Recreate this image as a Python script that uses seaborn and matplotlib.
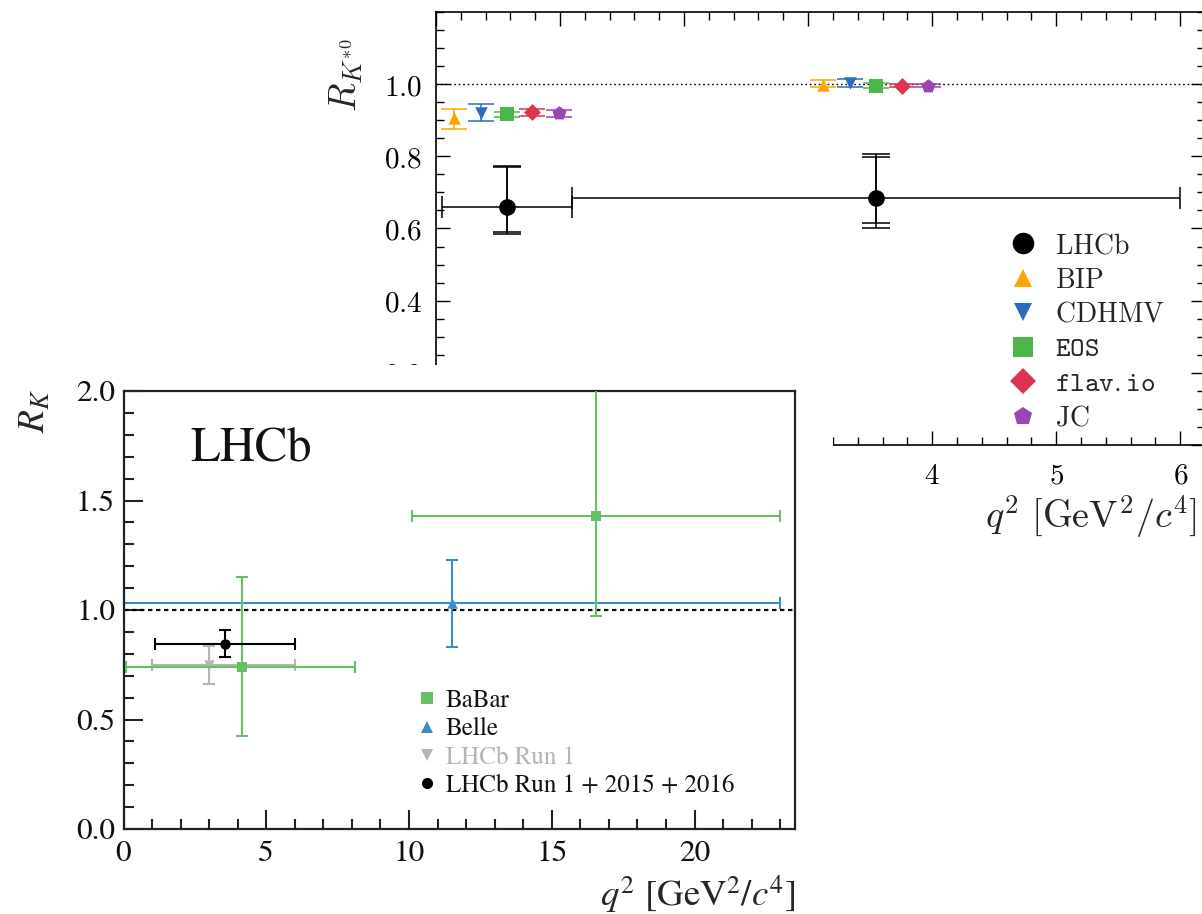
import numpy as np
import matplotlib
matplotlib.use("Agg")
import matplotlib.pyplot as plt
from matplotlib.patches import Rectangle
from matplotlib.lines import Line2D
from matplotlib.ticker import MultipleLocator
import seaborn as sns

# ---------------- data: R_K*0 (upper panel) ----------------
kst_lhcb_x = [0.5725, 3.55]
kst_lhcb_xlo = [0.045, 1.1]
kst_lhcb_xhi = [1.1, 6.0]
kst_lhcb_y = [0.660, 0.685]
kst_lhcb_stat_up = [0.110, 0.113]
kst_lhcb_stat_dn = [0.070, 0.069]
kst_lhcb_tot_up = [0.114, 0.122]
kst_lhcb_tot_dn = [0.076, 0.083]

theory_names = ["BIP", "CDHMV", "EOS", "flav.io", "JC"]
theory_x = {"BIP": [0.145, 3.12], "CDHMV": [0.36, 3.34], "EOS": [0.57, 3.55],
            "flav.io": [0.776, 3.76], "JC": [0.99, 3.97]}
theory_y = {"BIP": [0.905, 0.997], "CDHMV": [0.921, 1.002], "EOS": [0.917, 0.996],
            "flav.io": [0.922, 0.996], "JC": [0.919, 0.996]}
theory_up = {"BIP": [0.026, 0.014], "CDHMV": [0.023, 0.011], "EOS": [0.007, 0.007],
             "flav.io": [0.009, 0.004], "JC": [0.009, 0.004]}
theory_dn = {"BIP": [0.029, 0.006], "CDHMV": [0.023, 0.009], "EOS": [0.007, 0.006],
             "flav.io": [0.009, 0.004], "JC": [0.009, 0.004]}

# ---------------- data: R_K (lower panel) ----------------
babar_x = [4.14, 16.56]
babar_xlo = [0.10, 10.11]
babar_xhi = [8.12, 23.0]
babar_y = [0.74, 1.43]
babar_up = [0.41, 0.65]
babar_dn = [0.317, 0.457]

belle_x = [11.52]
belle_xlo = [0.0]
belle_xhi = [23.0]
belle_y = [1.03]
belle_up = [0.20]
belle_dn = [0.20]

run1_x = [3.0]
run1_xlo = [1.0]
run1_xhi = [6.0]
run1_y = [0.750]
run1_up = [0.087]
run1_dn = [0.087]

new_x = [3.57]
new_xlo = [1.1]
new_xhi = [6.0]
new_y = [0.846]
new_up = [0.064]
new_dn = [0.060]

# ---------------- styling ----------------
sns.set_style("ticks")
plt.rcParams["mathtext.fontset"] = "cm"
plt.rcParams["font.family"] = ["DejaVu Serif"]

W, H = 1202, 914
fig = plt.figure(figsize=(W / 100, H / 100), dpi=100)
fig.patch.set_facecolor("white")


def frac(l, t, r, b):
    return [l / W, 1 - b / H, (r - l) / W, (b - t) / H]


theory_style = {
    "BIP": dict(marker="^", color="#FFA500", ms=9.0, lms=13),
    "CDHMV": dict(marker="v", color="#2A6EBB", ms=9.0, lms=13),
    "EOS": dict(marker="s", color="#4CB84A", ms=9.5, lms=14),
    "flav.io": dict(marker="D", color="#DC3350", ms=8.6, lms=13.5),
    "JC": dict(marker="p", color="#9A46B4", ms=10.5, lms=13.5),
}

# ======================= upper panel =======================
ax1 = fig.add_axes(frac(436, 12, 1205, 445))
ax1.set_zorder(1)
ax1.set_facecolor("white")
ax1.set_xlim(0, 6.2)
ax1.set_ylim(0, 1.2)

ax1.axhline(1.0, color="black", lw=1.0, ls=(0, (1.2, 2.0)), zorder=1)

kx = np.array(kst_lhcb_x)
ax1.errorbar(kx, kst_lhcb_y,
             xerr=[kx - np.array(kst_lhcb_xlo), np.array(kst_lhcb_xhi) - kx],
             fmt="none", ecolor="black", elinewidth=1.1, capsize=8, capthick=1.1, zorder=3)
ax1.errorbar(kx, kst_lhcb_y, yerr=[kst_lhcb_stat_dn, kst_lhcb_stat_up],
             fmt="none", ecolor="black", elinewidth=1.1, capsize=10, capthick=1.1, zorder=3)
ax1.errorbar(kx, kst_lhcb_y, yerr=[kst_lhcb_tot_dn, kst_lhcb_tot_up],
             fmt="none", ecolor="black", elinewidth=1.1, capsize=10, capthick=1.1, zorder=3)
sns.scatterplot(x=kst_lhcb_x, y=kst_lhcb_y, marker="o", color="black", s=12 ** 2,
                linewidth=0, ax=ax1, zorder=4, legend=False)

for name in theory_names:
    st = theory_style[name]
    ax1.errorbar(theory_x[name], theory_y[name], yerr=[theory_dn[name], theory_up[name]],
                 fmt="none", ecolor=st["color"], elinewidth=1.1, capsize=9.4, capthick=1.1, zorder=3)
    sns.scatterplot(x=theory_x[name], y=theory_y[name], marker=st["marker"], color=st["color"],
                    s=st["ms"] ** 2, linewidth=0, ax=ax1, zorder=4, legend=False)

ax1.xaxis.set_minor_locator(MultipleLocator(0.2))
ax1.yaxis.set_minor_locator(MultipleLocator(0.05))
ax1.set_xticks(range(0, 7), [rf"${v}$" for v in range(0, 7)])
yt = [0.0, 0.2, 0.4, 0.6, 0.8, 1.0]
ax1.set_yticks(yt, [rf"${v:.1f}$" for v in yt])
ax1.tick_params(which="both", direction="in", top=True, right=True, width=1.0,
                colors="black", labelsize=21)
ax1.tick_params(which="major", length=10)
ax1.tick_params(which="minor", length=6)
ax1.tick_params(axis="x", pad=12)
ax1.tick_params(axis="y", pad=10)
for sp in ax1.spines.values():
    sp.set_linewidth(1.2)
    sp.set_color("black")

ax1.set_ylabel(r"$R_{K^{*0}}$", fontsize=27)
ax1.yaxis.set_label_coords(-0.092, 0.855)
ax1.set_xlabel(r"$q^2\ [\mathrm{GeV}^2/c^4]$", fontsize=27.5, loc="right")
ax1.xaxis.set_label_coords((1197 - 436) / 769, (445 - 493) / 433)

leg_handles = [Line2D([], [], marker="o", color="black", ls="none", ms=15.5, mew=0)]
leg_labels = [r"$\mathrm{LHCb}$"]
for name in theory_names:
    st = theory_style[name]
    leg_handles.append(Line2D([], [], marker=st["marker"], color=st["color"], ls="none",
                              ms=st["lms"], mew=0))
tt = {"EOS": r"$\mathtt{EOS}$", "flav.io": r"$\mathtt{flav.io}$"}
for name in theory_names:
    leg_labels.append(tt.get(name, r"$\mathrm{" + name + "}$"))
ax1.legend(leg_handles, leg_labels, loc="upper left",
           bbox_to_anchor=(1009 / W, 1 - 232 / H), bbox_transform=fig.transFigure,
           frameon=False, fontsize=20, handlelength=1.0, handletextpad=0.65,
           labelspacing=0.27, borderpad=0, borderaxespad=0)

# ---------------- white backing of the lower figure ----------------
fig.add_artist(Rectangle((0, 0), 833 / W, 1 - 365 / H, transform=fig.transFigure,
                         facecolor="white", edgecolor="none", zorder=2))

# ======================= lower panel =======================
ax2 = fig.add_axes(frac(123.5, 391, 795, 829))
ax2.set_zorder(3)
ax2.set_facecolor("white")
ax2.set_xlim(0, 23.52)
ax2.set_ylim(0, 2.0)

TIMES = "STIXGeneral"
green, blue, grey = "#66BF63", "#3A8CCB", "#B5B5B5"

ax2.axhline(1.0, color="black", lw=1.6, ls=(0, (2.0, 1.6)), zorder=1)


def draw(ax, x, xlo, xhi, y, up, dn, color, marker, ms, z):
    x = np.array(x)
    ax.errorbar(x, y, xerr=[x - np.array(xlo), np.array(xhi) - x], yerr=[dn, up],
                fmt="none", ecolor=color, elinewidth=1.5, capsize=4, capthick=1.5, zorder=z)
    sns.scatterplot(x=list(x), y=y, marker=marker, color=color, s=ms ** 2, linewidth=0,
                    ax=ax, zorder=z + 0.5, legend=False)


draw(ax2, belle_x, belle_xlo, belle_xhi, belle_y, belle_up, belle_dn, blue, "^", 7.5, 2)
draw(ax2, run1_x, run1_xlo, run1_xhi, run1_y, run1_up, run1_dn, grey, "v", 7.5, 3)
draw(ax2, babar_x, babar_xlo, babar_xhi, babar_y, babar_up, babar_dn, green, "s", 7.0, 4)
draw(ax2, new_x, new_xlo, new_xhi, new_y, new_up, new_dn, "black", "o", 7.5, 5)

ax2.xaxis.set_major_locator(MultipleLocator(5))
ax2.xaxis.set_minor_locator(MultipleLocator(1))
ax2.yaxis.set_major_locator(MultipleLocator(0.5))
ax2.yaxis.set_minor_locator(MultipleLocator(0.1))
ax2.yaxis.set_major_formatter(matplotlib.ticker.FormatStrFormatter("%.1f"))
ax2.tick_params(which="both", direction="in", top=False, right=False, width=1.5,
                colors="#222222", labelsize=22.5, labelfontfamily=TIMES, labelcolor="#111111")
ax2.tick_params(which="major", length=14)
ax2.tick_params(which="minor", length=7)
ax2.tick_params(axis="x", pad=8)
ax2.tick_params(axis="y", pad=6)
for sp in ax2.spines.values():
    sp.set_linewidth(1.6)
    sp.set_color("#222222")

ax2.set_ylabel(r"$R_K$", fontsize=27, math_fontfamily="stix")
ax2.yaxis.set_label_coords((53 - 123.5) / 671.5, (829 - 411) / 438)
ax2.set_xlabel(r"$q^2$ [GeV$^2$/$c^4$]", fontsize=26.5, family=TIMES,
               math_fontfamily="stix", loc="right")
ax2.xaxis.set_label_coords(1.0, (829 - 874) / 438)

ax2.text((190 - 123.5) / 28.55, (829 - 462) / 219, "LHCb", fontsize=35, family=TIMES,
         ha="left", va="baseline", color="#111111")

h2 = [Line2D([], [], marker="s", color=green, ls="none", ms=8, mew=0),
      Line2D([], [], marker="^", color=blue, ls="none", ms=8, mew=0),
      Line2D([], [], marker="v", color=grey, ls="none", ms=8, mew=0),
      Line2D([], [], marker="o", color="black", ls="none", ms=8, mew=0)]
l2 = ["BaBar", "Belle", "LHCb Run 1", "LHCb Run 1 + 2015 + 2016"]
leg2 = ax2.legend(h2, l2, loc="upper left", bbox_to_anchor=(417 / W, 1 - 689 / H),
                  bbox_transform=fig.transFigure, frameon=False,
                  prop={"family": TIMES, "size": 18}, handlelength=0.8,
                  handletextpad=0.36, labelspacing=0.17, borderpad=0, borderaxespad=0)
for txt, c in zip(leg2.get_texts(), ["#111111", "#111111", grey, "#111111"]):
    txt.set_color(c)

fig.savefig("out.png", dpi=100, facecolor="white")
